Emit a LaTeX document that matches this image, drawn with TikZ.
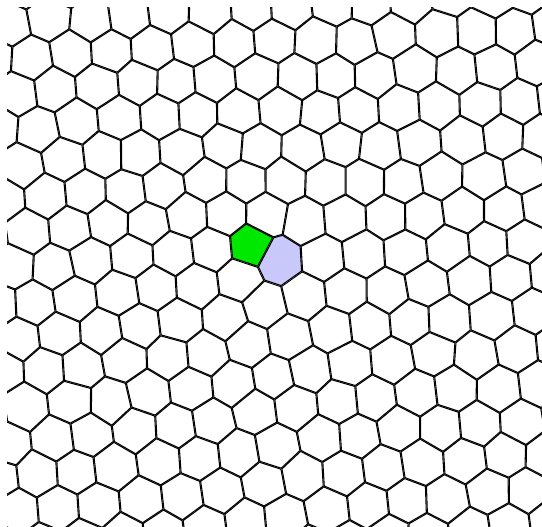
\documentclass[tikz,border=0pt]{standalone}
\definecolor{pentgreen}{RGB}{0,232,0}
\definecolor{heptblue}{RGB}{200,200,250}
\tikzset{cellline/.style={line width=2.1pt,black,line join=round}}
\newcommand\CX{272}
\newcommand\CY{251}
\newcommand\PHI{-65}
\newcommand\NU{0.3}
\newcommand\BB{-40.5}
\newcommand\drawcell[2]{%
 \edef\PX{\csname sx@#1@#2\endcsname}%
 \edef\PY{\csname sy@#1@#2\endcsname}%
 \gdef\bis{}%
 \begin{scope}
 \foreach \di in {-2,...,2}{%
  \foreach \dj in {-2,...,2}{%
   \pgfmathtruncatemacro\ni{#1+\di}%
   \pgfmathtruncatemacro\nj{#2+\dj}%
   \ifcsname sx@\ni @\nj\endcsname
     \edef\QX{\csname sx@\ni @\nj\endcsname}%
     \edef\QY{\csname sy@\ni @\nj\endcsname}%
     \pgfmathsetmacro\ddx{(\QX-\PX)/42}%
     \pgfmathsetmacro\ddy{(\QY-\PY)/42}%
     \pgfmathsetmacro\dd{sqrt(\ddx*\ddx+\ddy*\ddy)}%
     \pgfmathtruncatemacro\ok{and(\dd>0.1,\dd<1.6)}%
     \ifnum\ok=1
       \pgfmathsetmacro\nx{\ddx/\dd}\pgfmathsetmacro\ny{\ddy/\dd}%
       \pgfmathsetmacro\mx{(\PX+\QX)/2}\pgfmathsetmacro\my{(\PY+\QY)/2}%
       \pgfmathsetmacro\vax{\mx-120*\ny}\pgfmathsetmacro\vay{\my+120*\nx}%
       \pgfmathsetmacro\vbx{\mx+120*\ny}\pgfmathsetmacro\vby{\my-120*\nx}%
       \pgfmathsetmacro\vcx{\vbx-120*\nx}\pgfmathsetmacro\vcy{\vby-120*\ny}%
       \pgfmathsetmacro\vdx{\vax-120*\nx}\pgfmathsetmacro\vdy{\vay-120*\ny}%
       \clip (\vax,\vay) -- (\vbx,\vby) -- (\vcx,\vcy) -- (\vdx,\vdy) -- cycle;
       \xdef\bis{\bis (\vax,\vay) -- (\vbx,\vby)}%
     \fi
   \fi
  }}%
 \pgfmathtruncatemacro\isg{((\PX-249)/10)^2+((\PY-245)/10)^2<2.5}%
 \pgfmathtruncatemacro\ish{((\PX-282)/10)^2+((\PY-260)/10)^2<2.5}%
 \ifnum\isg=1 \fill[pentgreen] (\PX-70,\PY-70) rectangle (\PX+70,\PY+70);\fi
 \ifnum\ish=1 \fill[heptblue] (\PX-70,\PY-70) rectangle (\PX+70,\PY+70);\fi
 \edef\cmd{\noexpand\draw[cellline] \bis;}\cmd
 \end{scope}
}
\begin{document}
\begin{tikzpicture}[x=1pt,y=-1pt]
\useasboundingbox (0,0) rectangle (542,527);
\fill[white] (0,0) rectangle (542,527);
\pgfmathsetseed{4242}
\pgfmathsetmacro\A{40.5}
\pgfmathsetmacro\H{40.5*sqrt(3)/2}
\foreach \i in {-19,...,19}{%
 \foreach \j in {-14,...,14}{%
   \pgfmathsetmacro\xp{\A*(\i+\j/2)+0.1*\A}%
   \pgfmathsetmacro\yp{\H*(\j+0.42)}%
   \pgfmathsetmacro\th{atan2(\yp,\xp)}%
   \pgfmathsetmacro\rr{(\xp/\A)^2+(\yp/\A)^2}%
   \pgfmathsetmacro\jf{3.2*min(1,max(0,sqrt(\rr)-1.2))}%
   \pgfmathsetmacro\ux{\BB/(2*pi)*(\th*pi/180 + sin(2*\th)/(4*(1-\NU)))}%
   \pgfmathsetmacro\uy{-\BB/(2*pi)*((1-2*\NU)/(4*(1-\NU))*ln(\rr) + cos(2*\th)/(4*(1-\NU)))}%
   \pgfmathsetmacro\xq{\xp+\ux+\jf*rand}%
   \pgfmathsetmacro\yq{\yp+\uy+\jf*rand}%
   \pgfmathsetmacro\X{\CX+\xq*cos(\PHI)-\yq*sin(\PHI)}%
   \pgfmathsetmacro\Y{\CY+\xq*sin(\PHI)+\yq*cos(\PHI)}%
   \expandafter\xdef\csname sx@\i @\j\endcsname{\X}%
   \expandafter\xdef\csname sy@\i @\j\endcsname{\Y}%
 }}
\begin{scope}
\clip (7,8) rectangle (542,527);
\foreach \i in {-19,...,19}{%
 \foreach \j in {-14,...,14}{%
   \edef\SX{\csname sx@\i @\j\endcsname}%
   \edef\SY{\csname sy@\i @\j\endcsname}%
   \pgfmathtruncatemacro\inside{and(and(\SX>-45,\SX<590),and(\SY>-45,\SY<575))}%
   \ifnum\inside=1 \drawcell{\i}{\j}\fi
 }}
\end{scope}
\end{tikzpicture}
\end{document}
